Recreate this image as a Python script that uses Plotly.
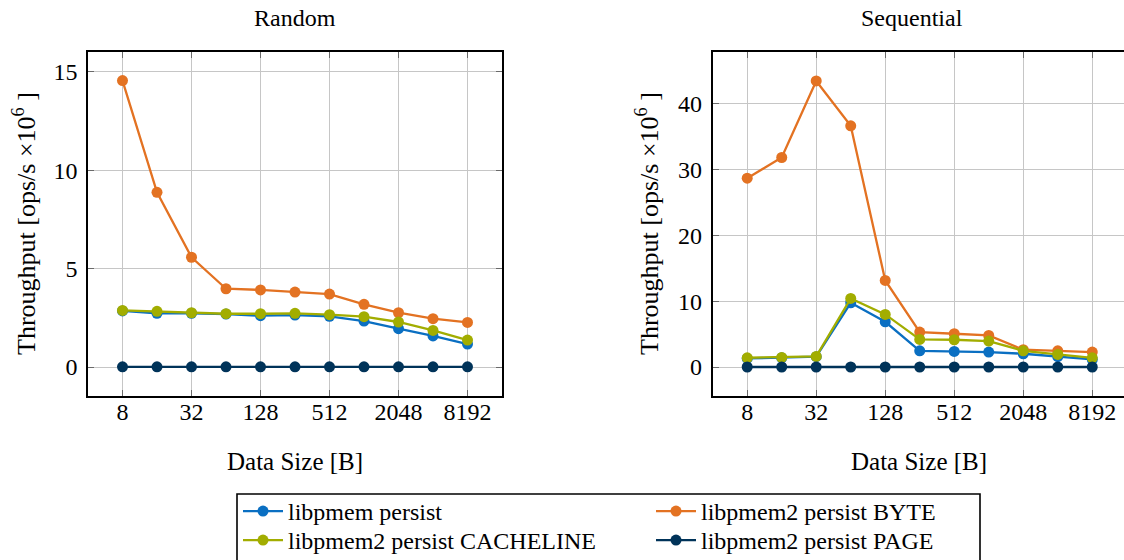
import math
import plotly.graph_objects as go

sizes = [8, 16, 32, 64, 128, 256, 512, 1024, 2048, 4096, 8192]
tick_vals = [8, 32, 128, 512, 2048, 8192]
tick_text = ["8", "32", "128", "512", "2048", "8192"]

series_names = ["libpmem persist", "libpmem2 persist BYTE",
                "libpmem2 persist CACHELINE", "libpmem2 persist PAGE"]
colors = ["#0A6FC2", "#E37222", "#A2AD00", "#003359"]
legend_of = ["legend", "legend2", "legend3", "legend4"]

random_libpmem = [2.85, 2.73, 2.73, 2.69, 2.61, 2.64, 2.58, 2.34, 1.95, 1.58, 1.17]
random_byte = [14.56, 8.88, 5.58, 3.98, 3.92, 3.81, 3.71, 3.19, 2.76, 2.46, 2.27]
random_cacheline = [2.88, 2.83, 2.76, 2.71, 2.71, 2.73, 2.66, 2.56, 2.29, 1.86, 1.37]
random_page = [0.01, 0.01, 0.01, 0.01, 0.01, 0.01, 0.01, 0.01, 0.01, 0.01, 0.01]

seq_libpmem = [1.31, 1.41, 1.57, 9.75, 6.87, 2.47, 2.37, 2.27, 2.02, 1.57, 1.16]
seq_byte = [28.64, 31.77, 43.38, 36.57, 13.13, 5.30, 5.05, 4.80, 2.63, 2.47, 2.27]
seq_cacheline = [1.41, 1.46, 1.62, 10.40, 7.98, 4.19, 4.14, 3.94, 2.47, 1.92, 1.41]
seq_page = [0.01, 0.01, 0.01, 0.01, 0.01, 0.01, 0.01, 0.01, 0.01, 0.01, 0.01]

random_data = [random_libpmem, random_byte, random_cacheline, random_page]
seq_data = [seq_libpmem, seq_byte, seq_cacheline, seq_page]

W, H = 1124, 560
FONT = "Liberation Serif"
FS = 24

fig = go.Figure()

for i, (name, col) in enumerate(zip(series_names, colors)):
    fig.add_trace(go.Scatter(
        x=sizes, y=random_data[i], name=name, mode="lines+markers",
        line=dict(color=col, width=2.3), marker=dict(color=col, size=11),
        xaxis="x", yaxis="y", showlegend=True, legend=legend_of[i]))
for i, (name, col) in enumerate(zip(series_names, colors)):
    fig.add_trace(go.Scatter(
        x=sizes, y=seq_data[i], name=name, mode="lines+markers",
        line=dict(color=col, width=2.3), marker=dict(color=col, size=11),
        xaxis="x2", yaxis="y2", showlegend=False))

def px_x(p):
    return p / W

def px_y(p):
    return 1 - p / H

ydom = [px_y(395.7), px_y(52.3)]
unit = 34.46  # px per doubling
right_end_log2 = 3 + (1124 - 747.7) / unit

tf = dict(family=FONT, size=FS, color="black")

common_x = dict(type="log", tickvals=tick_vals, ticktext=tick_text,
                showgrid=True, gridcolor="#c6c6c6", gridwidth=1,
                ticks="inside", ticklen=6, tickcolor="#6a6a6a",
                showline=True, linecolor="black", linewidth=1.6, mirror="ticks",
                zeroline=False, tickfont=tf, ticklabelstandoff=-6)
common_y = dict(showgrid=True, gridcolor="#c6c6c6", gridwidth=1,
                ticks="inside", ticklen=6, tickcolor="#6a6a6a",
                showline=True, linecolor="black", linewidth=1.6,
                zeroline=False, tickfont=tf, ticklabelstandoff=4)

legend_common = dict(orientation="v", yanchor="top", xanchor="left",
                     bgcolor="rgba(0,0,0,0)", borderwidth=0,
                     font=dict(family=FONT, size=24, color="black"),
                     itemwidth=40, tracegroupgap=0)

ytitle = "Throughput [ops/s ×10<sup>6</sup> ]"

def ann(text, x, y, size=FS, angle=0):
    return dict(text=text, x=px_x(x), y=px_y(y), xref="paper", yref="paper",
                xanchor="center", yanchor="middle", textangle=angle,
                showarrow=False, font=dict(family=FONT, size=size, color="black"))

fig.update_layout(
    width=W, height=H,
    margin=dict(l=0, r=0, t=0, b=0, autoexpand=False),
    paper_bgcolor="white", plot_bgcolor="white",
    font=dict(family=FONT, size=FS, color="black"),
    xaxis=dict(common_x, domain=[px_x(88), px_x(502)],
               range=[math.log10(4), math.log10(16384)], anchor="y"),
    yaxis=dict(common_y, domain=ydom, range=[-1.456, 15.996], dtick=5, anchor="x",
               mirror="ticks"),
    xaxis2=dict(common_x, domain=[px_x(712.7), 1.0],
                range=[math.log10(4), right_end_log2 * math.log10(2)], anchor="y2"),
    yaxis2=dict(common_y, domain=ydom, range=[-4.34, 47.72], dtick=10, anchor="x2",
                mirror=False),
    legend=dict(legend_common, x=px_x(238), y=px_y(489)),
    legend2=dict(legend_common, x=px_x(651), y=px_y(489)),
    legend3=dict(legend_common, x=px_x(238), y=px_y(518)),
    legend4=dict(legend_common, x=px_x(651), y=px_y(518)),
    shapes=[dict(type="rect", xref="paper", yref="paper",
                 x0=px_x(237), x1=px_x(980), y0=px_y(565), y1=px_y(494),
                 line=dict(color="black", width=1.6), fillcolor="rgba(0,0,0,0)",
                 layer="below")],
    annotations=[
        ann("Random", 295, 18),
        ann("Sequential", 912, 18),
        ann("Data Size [B]", 295, 461, 25),
        ann("Data Size [B]", 919, 461, 25),
        ann(ytitle, 24, 224, 26, -90),
        ann(ytitle, 647, 224, 26, -90),
    ],
)

fig.write_html("out.html")
